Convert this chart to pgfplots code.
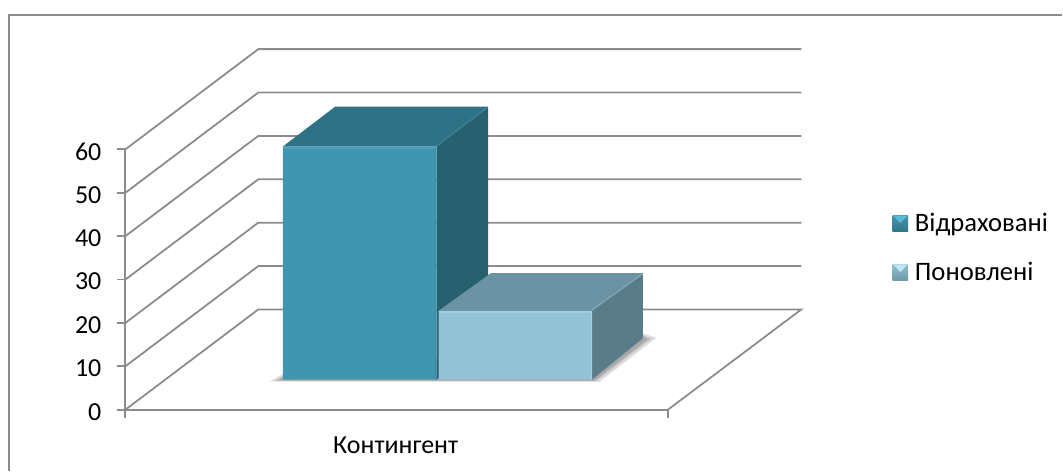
\documentclass[border=0pt]{standalone}
\usepackage{pgfplots}
\pgfplotsset{compat=1.18}
\usepackage{fontspec}
\setmainfont{Carlito}
\definecolor{axgray}{HTML}{8C8C8C}
\newcommand{\tickfont}{\fontsize{19.5}{21}\selectfont}
\newcommand{\legfont}{\fontsize{20}{22}\selectfont}
\newcommand{\bevel}[3]{%
  \shade[top color=#1,bottom color=#3,draw=none] (0pt,-5.9pt) rectangle (11.8pt,5.9pt);
  \fill[#2,draw=none] (0.5pt,5.9pt) -- (11.3pt,5.9pt) -- (5.9pt,0.2pt) -- cycle;
}
\definecolor{legAa}{RGB}{69,149,174}
\definecolor{legAb}{RGB}{92,186,212}
\definecolor{legAc}{RGB}{50,118,138}
\definecolor{legBa}{RGB}{143,192,211}
\definecolor{legBb}{RGB}{190,229,243}
\definecolor{legBc}{RGB}{112,152,168}
\pgfplotsset{
  poly/.style={draw=none,mark=none,forget plot},
  gline/.style={draw=axgray,line width=1.35pt,mark=none,forget plot},
  hl/.style={mark=none,forget plot,line width=1.1pt},
  shad/.style={draw=none,mark=none,forget plot,fill=black,fill opacity=0.13},
}
\begin{document}
\begin{tikzpicture}
\begin{axis}[
  scale only axis, width=407.25pt, height=195.4pt,
  xmin=125.5, xmax=668.5, ymin=0, ymax=60,
  clip=false,
  axis lines*=left,
  axis line style={draw=axgray,line width=1.35pt},
  tick style={draw=axgray,line width=1.35pt},
  tick align=outside, major tick length=6pt,
  ytick={0,10,...,60},
  xtick={125.5,668.5}, xticklabels={,},
  extra x ticks={396}, extra x tick labels={Контингент},
  extra x tick style={tick style={draw=none}},
  /pgf/number format/assume math mode=true,
  tick label style={font=\tickfont,text=black},
  yticklabel style={xshift=-8.5pt,yshift=-1.5pt},
  xticklabel style={yshift=-10.5pt},
  legend style={draw=none,fill=none,at={(axis cs:893,37.3)},anchor=west,font=\legfont,
    inner xsep=0pt,inner ysep=0pt,row sep=21.5pt,column sep=5pt,nodes={inner sep=0pt,anchor=west}},
  legend cell align=left,
]
% frame
\addplot[draw=axgray,line width=1.35pt,mark=none,forget plot] coordinates {(9,-14.05) (9,90.97) (1063,90.97)};
% walls and floor
\addplot[gline] coordinates {(125.5,0) (258.5,23.1) (802,23.1) (668.5,0)};
\addplot[gline] coordinates {(125.5,10) (258.5,33.1) (802,33.1)};
\addplot[gline] coordinates {(125.5,20) (258.5,43.1) (802,43.1)};
\addplot[gline] coordinates {(125.5,30) (258.5,53.1) (802,53.1)};
\addplot[gline] coordinates {(125.5,40) (258.5,63.1) (802,63.1)};
\addplot[gline] coordinates {(125.5,50) (258.5,73.1) (802,73.1)};
\addplot[gline] coordinates {(125.5,60) (258.5,83.1) (802,83.1)};
% shadow
\addplot[shad,fill] coordinates {(270,6.5) (283,8.2) (643,17.6) (657,16.6) (600,6.4) (270,6.5)};
\addplot[shad,fill] coordinates {(275,6.6) (283,7.8) (643,17.2) (652,16.4) (597,6.6) (275,6.6)};
\addplot[shad,fill] coordinates {(279,6.7) (283,7.4) (643,16.9) (648,16.2) (595,6.7) (279,6.7)};
% bar 1
\addplot[poly,fill={rgb,255:red,39;green,96;blue,111}] coordinates {(437,6.91) (437,60.64) (488.5,69.86) (488.5,16.12) (437,6.91)};
\addplot[poly,fill={rgb,255:red,47;green,114;blue,133}] coordinates {(283,60.64) (335.5,69.86) (488.5,69.86) (437,60.64) (283,60.64)};
\addplot[poly,fill={rgb,255:red,64;green,150;blue,177}] coordinates {(283,6.91) (437,6.91) (437,60.64) (283,60.64) (283,6.91)};
\addplot[hl,draw={rgb,255:red,74;green,160;blue,186}] coordinates {(283.5,60.3) (436.5,60.3)};
\addplot[hl,draw={rgb,255:red,58;green,128;blue,149}] coordinates {(437,60.8) (488,69.7)};
\addplot[hl,draw={rgb,255:red,58;green,138;blue,163},line width=0.8pt] coordinates {(436.3,7) (436.3,60.3)};
% bar 2
\addplot[poly,fill={rgb,255:red,90;green,124;blue,136}] coordinates {(592.5,6.91) (592.5,22.8) (643.5,31.49) (643.5,16.5) (592.5,6.91)};
\addplot[poly,fill={rgb,255:red,108;green,147;blue,163}] coordinates {(439,22.8) (491.5,31.49) (643.5,31.49) (592.5,22.8) (439,22.8)};
\addplot[poly,fill={rgb,255:red,146;green,194;blue,213}] coordinates {(439,6.91) (592.5,6.91) (592.5,22.8) (439,22.8) (439,6.91)};
\addplot[hl,draw={rgb,255:red,160;green,206;blue,224}] coordinates {(439.5,22.5) (592,22.5)};
\addplot[hl,draw={rgb,255:red,124;green,164;blue,180}] coordinates {(592.5,23) (643,31.3)};
\addplot[hl,draw={rgb,255:red,165;green,210;blue,226},line width=0.8pt] coordinates {(591.8,7) (591.8,22.5)};
% legend
\addlegendimage{legend image code/.code={\bevel{legAa}{legAb}{legAc}}}
\addlegendentry{Відраховані}
\addlegendimage{legend image code/.code={\bevel{legBa}{legBb}{legBc}}}
\addlegendentry{Поновлені}
% page extent
\path (axis cs:0,-14.05) rectangle (axis cs:1063,94.43);
\end{axis}
\end{tikzpicture}
\end{document}
